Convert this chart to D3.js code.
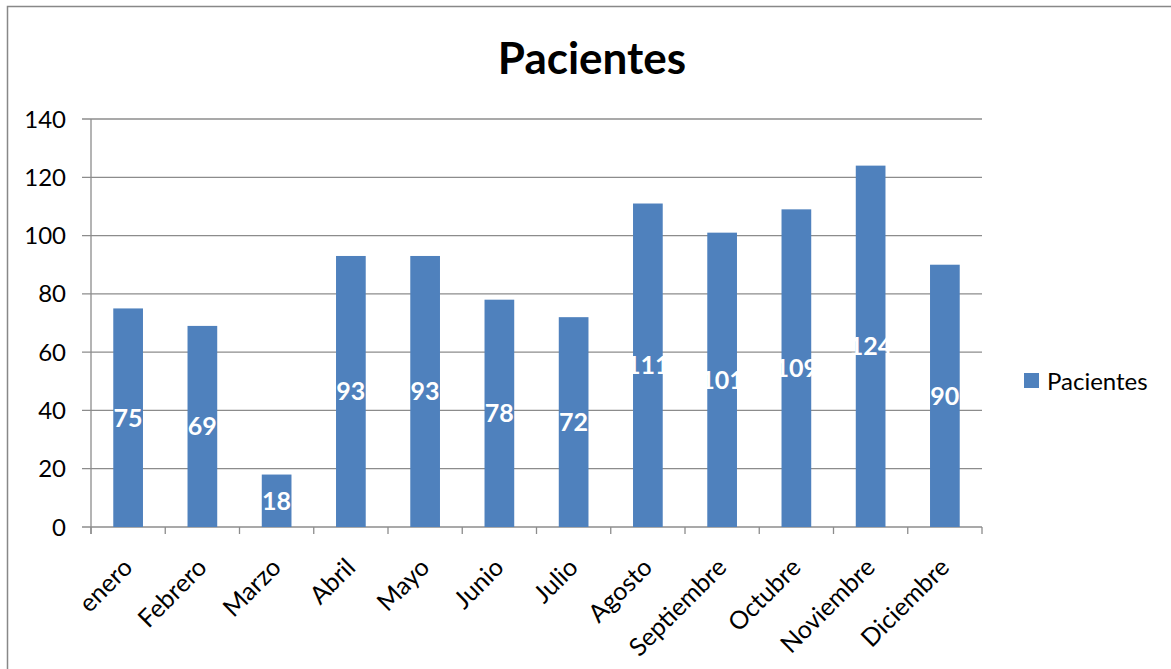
<!DOCTYPE html>
<html>
<head>
<meta charset="utf-8">
<script src="https://cdn.jsdelivr.net/npm/d3@7.9.0/dist/d3.min.js"></script>
<style>
  body { margin: 0; background: #fff; }
  svg { display: block; font-family: Lato, "Open Sans", sans-serif; }
</style>
</head>
<body>
<svg id="chart" width="1171" height="669"></svg>
<script>
const months = ['enero', 'Febrero', 'Marzo', 'Abril', 'Mayo', 'Junio', 'Julio',
  'Agosto', 'Septiembre', 'Octubre', 'Noviembre', 'Diciembre'];
const pacientes = [75, 69, 18, 93, 93, 78, 72, 111, 101, 109, 124, 90];
const yTicks = [0, 20, 40, 60, 80, 100, 120, 140];
const seriesName = 'Pacientes';

const svg = d3.select('#chart');
const barColor = '#4f81bd';
const gridColor = '#8c8c8c';

// outer chart border
svg.append('rect')
  .attr('x', 7.5).attr('y', 6.5)
  .attr('width', 1180).attr('height', 680)
  .attr('fill', 'none').attr('stroke', '#888').attr('stroke-width', 1.5);

const x = d3.scaleBand().domain(months).range([91, 982]).paddingInner(0.6).paddingOuter(0.3);
const y = d3.scaleLinear().domain([0, 140]).range([527, 119]);

// gridlines
svg.append('g')
  .selectAll('line')
  .data(yTicks)
  .join('line')
  .attr('x1', 82).attr('x2', 982)
  .attr('y1', (d) => y(d)).attr('y2', (d) => y(d))
  .attr('stroke', gridColor).attr('stroke-width', 1.3);

// y axis line
svg.append('line')
  .attr('x1', 91).attr('x2', 91).attr('y1', 119).attr('y2', 534)
  .attr('stroke', gridColor).attr('stroke-width', 1.3);

// x ticks
const tickXs = d3.range(months.length + 1).map((i) => 91 + i * (982 - 91) / months.length);
svg.append('g')
  .selectAll('line')
  .data(tickXs)
  .join('line')
  .attr('x1', (d) => d).attr('x2', (d) => d)
  .attr('y1', 527).attr('y2', 534)
  .attr('stroke', gridColor).attr('stroke-width', 1.3);

// y tick labels
svg.append('g')
  .selectAll('text')
  .data(yTicks)
  .join('text')
  .attr('x', 66).attr('y', (d) => y(d))
  .attr('dy', '0.36em')
  .attr('text-anchor', 'end')
  .attr('font-size', 24)
  .text((d) => d);

// bars
svg.append('g')
  .selectAll('rect')
  .data(pacientes)
  .join('rect')
  .attr('x', (d, i) => x(months[i]))
  .attr('y', (d) => y(d))
  .attr('width', x.bandwidth())
  .attr('height', (d) => y(0) - y(d))
  .attr('fill', barColor);

// value labels
svg.append('g')
  .selectAll('text')
  .data(pacientes)
  .join('text')
  .attr('x', (d, i) => x(months[i]) + x.bandwidth() / 2)
  .attr('y', (d) => y(d / 2))
  .attr('dy', '0.36em')
  .attr('text-anchor', 'middle')
  .attr('font-size', 25)
  .attr('font-weight', 'bold')
  .attr('fill', '#fff')
  .text((d) => d);

// month labels
svg.append('g')
  .selectAll('text')
  .data(months)
  .join('text')
  .attr('transform', (d) => `translate(${x(d) + x.bandwidth() / 2 + 6},${569}) rotate(-45)`)
  .attr('text-anchor', 'end')
  .attr('font-size', 25)
  .text((d) => d);

// title
svg.append('text')
  .attr('x', 592).attr('y', 74)
  .attr('text-anchor', 'middle')
  .attr('font-size', 44)
  .attr('font-weight', 'bold')
  .text(seriesName);

// legend
svg.append('rect')
  .attr('x', 1024).attr('y', 373)
  .attr('width', 15).attr('height', 15)
  .attr('fill', barColor);
svg.append('text')
  .attr('x', 1047).attr('y', 381)
  .attr('dy', '0.36em')
  .attr('font-size', 24)
  .text(seriesName);
</script>
</body>
</html>
